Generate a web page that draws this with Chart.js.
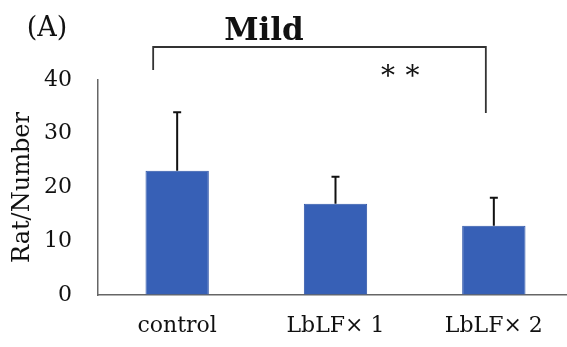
<!DOCTYPE html>
<html>
<head>
<meta charset="utf-8">
<script src="https://cdn.jsdelivr.net/npm/chart.js@4"></script>
<style>
  html, body { margin: 0; padding: 0; background: #fff; overflow: hidden; }
  #wrap { width: 575px; height: 347px; }
</style>
</head>
<body>
<div id="wrap"><canvas id="chart"></canvas></div>
<script>
const categories = ['control', 'LbLF\u00d7 1', 'LbLF\u00d7 2'];
const means = [23.1, 17.0, 12.9];
const sdUpper = [34.0, 22.0, 18.1];
const yTicks = [0, 10, 20, 30, 40];

const serif = '"DejaVu Serif", "Liberation Serif", serif';

// error bars, bracket and labels drawn on top of the bars
const annotate = {
  id: 'annotate',
  afterDatasetsDraw(chart) {
    const ctx = chart.ctx;
    const x = chart.scales.x;
    const y = chart.scales.y;
    ctx.save();
    ctx.strokeStyle = '#111';
    ctx.lineWidth = 2;
    means.forEach((m, i) => {
      const cx = x.getPixelForValue(i);
      const top = y.getPixelForValue(sdUpper[i]);
      ctx.beginPath();
      ctx.moveTo(cx, y.getPixelForValue(m));
      ctx.lineTo(cx, top);
      ctx.moveTo(cx - 4, top);
      ctx.lineTo(cx + 4, top);
      ctx.stroke();
    });

    // significance bracket control vs LbLF x2
    const bx1 = x.getPixelForValue(0) - 24;
    const bx2 = x.getPixelForValue(2) - 8;
    ctx.lineWidth = 1.8;
    ctx.strokeStyle = '#333';
    ctx.beginPath();
    ctx.moveTo(bx1, 70);
    ctx.lineTo(bx1, 47);
    ctx.lineTo(bx2, 47);
    ctx.lineTo(bx2, 113);
    ctx.stroke();

    ctx.fillStyle = '#111';
    ctx.textAlign = 'center';
    ctx.textBaseline = 'middle';
    ctx.font = '28px ' + serif;
    ctx.fillText('\u2217\u2009\u2217', 400, 72);

    ctx.font = 'bold 31px ' + serif;
    ctx.textBaseline = 'alphabetic';
    ctx.fillText('Mild', 264, 40);

    ctx.font = '27px ' + serif;
    ctx.fillText('(A)', 47, 36);
    ctx.restore();
  }
};

new Chart(document.getElementById('chart'), {
  type: 'bar',
  data: {
    labels: categories,
    datasets: [
      {
        data: means,
        backgroundColor: '#3760b6',
        borderColor: '#2f55a8',
        borderWidth: 1,
        barPercentage: 0.4,
        categoryPercentage: 1,
      },
    ],
  },
  options: {
    responsive: true,
    maintainAspectRatio: false,
    animation: false,
    layout: { padding: { left: 0, top: 80, right: 2, bottom: 0 } },
    plugins: { legend: { display: false }, tooltip: { enabled: false } },
    scales: {
      x: {
        grid: { display: true, color: 'transparent', drawTicks: false },
        border: { display: true, color: '#666', width: 1.5 },
        ticks: { color: '#111', padding: 18, font: { family: serif, size: 22 } },
        afterFit(scale) { scale.height = 52; },
      },
      y: {
        min: 0,
        max: 40,
        afterBuildTicks(scale) { scale.ticks = yTicks.map((v) => ({ value: v })); },
        grid: { display: true, color: 'transparent', drawTicks: false },
        border: { display: true, color: '#666', width: 1.5 },
        ticks: { color: '#111', padding: 26, font: { family: serif, size: 22 } },
        title: {
          display: true,
          text: 'Rat/Number',
          color: '#111',
          padding: { top: 8, bottom: 0 },
          font: { family: serif, size: 24 },
        },
        afterFit(scale) { scale.width = 98; },
      },
    },
  },
  plugins: [annotate],
});
</script>
</body>
</html>
